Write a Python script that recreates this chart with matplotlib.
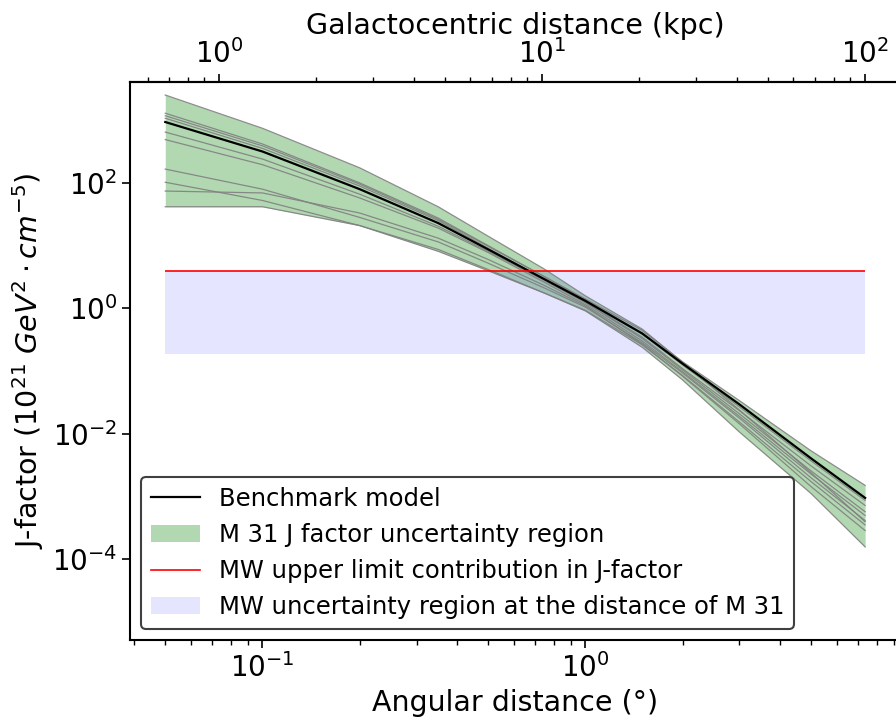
"""M 31 J-factor profile vs. angular distance, with MW contribution."""

import numpy as np
import matplotlib
matplotlib.use("Agg")
import matplotlib.pyplot as plt
from matplotlib.lines import Line2D
from matplotlib.patches import Patch
from matplotlib.ticker import FixedLocator, NullLocator

# angular distance samples (deg)
theta_deg = [0.05, 0.1, 0.2, 0.35, 0.5, 0.75, 1.0, 1.5, 2.0, 3.0, 5.0, 7.35]

# log10 J-factor (1e21 GeV^2 cm^-5)
benchmark_log = [2.97, 2.50, 1.90, 1.36, 0.94, 0.46, 0.12, -0.40, -0.88, -1.53, -2.39, -3.02]

models_log = [
    [3.40, 2.87, 2.24, 1.62, 1.15, 0.62, 0.20, -0.33, -0.86, -1.62, -2.62, -3.40],
    [3.11, 2.62, 2.00, 1.44, 1.00, 0.50, 0.15, -0.35, -0.85, -1.47, -2.27, -2.82],
    [3.07, 2.59, 1.98, 1.42, 0.99, 0.50, 0.14, -0.40, -0.90, -1.57, -2.43, -3.06],
    [3.03, 2.55, 1.95, 1.40, 0.96, 0.46, 0.10, -0.46, -0.96, -1.63, -2.51, -3.14],
    [2.81, 2.38, 1.82, 1.31, 0.91, 0.44, 0.09, -0.48, -0.98, -1.68, -2.59, -3.24],
    [2.69, 2.29, 1.76, 1.28, 0.89, 0.41, 0.06, -0.52, -1.01, -1.72, -2.64, -3.30],
    [2.22, 1.90, 1.45, 1.06, 0.72, 0.32, 0.02, -0.55, -1.03, -1.75, -2.70, -3.38],
    [2.01, 1.72, 1.32, 0.94, 0.62, 0.24, -0.03, -0.58, -1.07, -1.81, -2.76, -3.45],
    [1.87, 1.84, 1.52, 1.12, 0.78, 0.36, 0.04, -0.57, -1.08, -1.84, -2.84, -3.54],
    [1.62, 1.62, 1.32, 0.91, 0.60, 0.24, -0.04, -0.62, -1.14, -1.97, -2.95, -3.80],
]

# Milky Way contribution at the distance of M 31
mw_upper = 4.0
mw_lower = 0.19

D_M31 = 780.0  # kpc

labels = [
    "Benchmark model",
    "M 31 J factor uncertainty region",
    "MW upper limit contribution in J-factor",
    "MW uncertainty region at the distance of M 31",
]


def deg2kpc(t):
    return np.asarray(t) * np.pi / 180.0 * D_M31


def kpc2deg(r):
    return np.asarray(r) / D_M31 * 180.0 / np.pi


x = np.array(theta_deg)
models = 10.0 ** np.array(models_log)
bench = 10.0 ** np.array(benchmark_log)

fig = plt.figure(figsize=(8.96, 7.18), dpi=100)
ax = fig.add_axes([0.1454, 0.1086, 0.8592, 0.7767])
ax.set_xscale("log")
ax.set_yscale("log")

ax.fill_between(x, models.min(axis=0), models.max(axis=0), color="green", alpha=0.3, lw=0)
for m in models:
    ax.plot(x, m, color="gray", lw=0.9, alpha=0.9)
ax.plot(x, bench, color="black", lw=1.6)
ax.fill_between(x, mw_lower, mw_upper, color="blue", alpha=0.1, lw=0)
ax.hlines(mw_upper, x[0], x[-1], color="red", lw=1.2)

ax.set_ylim(5.2e-6, 4.0e3)
ax.yaxis.set_major_locator(FixedLocator([1e-4, 1e-2, 1e0, 1e2]))
ax.yaxis.set_minor_locator(NullLocator())

fs = 20.5
ax.set_xlabel("Angular distance (°)", fontsize=fs)
ax.set_ylabel(r"J-factor ($10^{21}\ GeV^2 \cdot cm^{-5}$)", fontsize=fs)
ax.tick_params(which="major", labelsize=20, length=6, width=1.2)
ax.tick_params(which="minor", length=3.5, width=1)
for s in ax.spines.values():
    s.set_linewidth(1.5)

secax = ax.secondary_xaxis("top", functions=(deg2kpc, kpc2deg))
secax.set_xlabel("Galactocentric distance (kpc)", fontsize=fs)
secax.tick_params(which="major", labelsize=20, length=6, width=1.2)
secax.tick_params(which="minor", length=3.5, width=1)
secax.spines["top"].set_linewidth(1.5)

handles = [
    Line2D([], [], color="black", lw=1.6),
    Patch(facecolor="green", alpha=0.3),
    Line2D([], [], color="red", lw=1.2),
    Patch(facecolor="blue", alpha=0.1),
]
leg = ax.legend(handles, labels, loc="lower left", fontsize=17.5, framealpha=1,
                borderaxespad=0.45, handlelength=2.0)
leg.get_frame().set_edgecolor("0.25")
leg.get_frame().set_linewidth(1.5)

fig.savefig("out.png", dpi=100)
